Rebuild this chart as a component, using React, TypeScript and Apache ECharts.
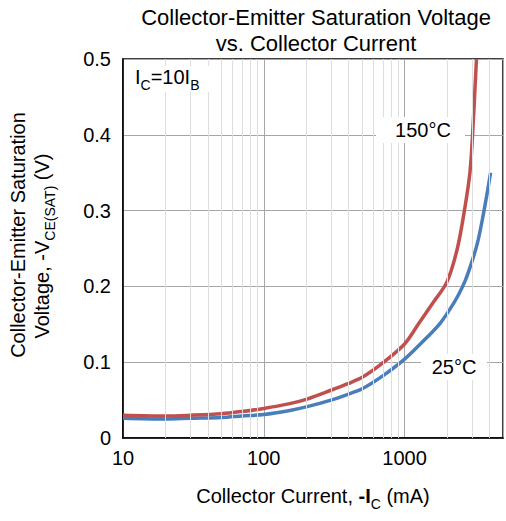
import React, { useEffect, useRef } from "react";
import * as echarts from "echarts";

// 150 °C curve
const hotCurrent = [10, 20, 30, 50, 70, 100, 150, 200, 300, 400, 500, 700, 1000, 1250, 1600, 2000, 2370, 2660, 2910, 3040, 3160, 3240];
const hotVoltage = [0.030, 0.029, 0.030, 0.032, 0.035, 0.039, 0.045, 0.051, 0.063, 0.072, 0.080, 0.099, 0.124, 0.150, 0.179, 0.206, 0.25, 0.30, 0.35, 0.40, 0.46, 0.50];

// 25 °C curve
const roomCurrent = [10, 20, 30, 50, 70, 100, 150, 200, 300, 400, 500, 700, 1000, 1500, 1800, 2100, 2400, 2700, 3000, 3300, 3600, 3850, 4080];
const roomVoltage = [0.026, 0.025, 0.026, 0.027, 0.029, 0.031, 0.036, 0.041, 0.050, 0.058, 0.065, 0.082, 0.104, 0.136, 0.152, 0.170, 0.188, 0.208, 0.232, 0.258, 0.292, 0.322, 0.350];

const xMajorLabels = [10, 100, 1000];
const minorGridCurrents = [20, 30, 40, 50, 60, 70, 80, 90, 200, 300, 400, 500, 600, 700, 800, 900, 2000, 3000, 4000];

const FONT = "'Liberation Sans', Arial, sans-serif";

export default function App() {
  const ref = useRef<HTMLDivElement>(null);
  useEffect(() => {
    document.body.style.margin = "0";
    const chart = echarts.init(ref.current!, null, { renderer: "svg" });
    const rich = {
      a: { fontSize: 20, fontFamily: FONT, color: "#000", lineHeight: 25, verticalAlign: "top" },
      b: { fontSize: 20, fontFamily: FONT, color: "#000", lineHeight: 25, verticalAlign: "top", fontWeight: "bold" },
      s: { fontSize: 14, fontFamily: FONT, color: "#000", lineHeight: 14, verticalAlign: "bottom" },
    };
    chart.setOption({
      animation: false,
      backgroundColor: "#fff",
      grid: { left: 123, right: 2, top: 59, bottom: 83, show: true, borderColor: "#000", borderWidth: 1.5 },
      xAxis: {
        type: "log",
        logBase: 10,
        min: 10,
        max: 5000,
        axisLine: { show: true, lineStyle: { color: "#000", width: 1.5 } },
        axisTick: { show: false },
        axisLabel: {
          color: "#000",
          fontSize: 20,
          fontFamily: FONT,
          margin: 10,
          formatter: (v: number) => (xMajorLabels.includes(Math.round(v)) ? String(Math.round(v)) : ""),
        },
        splitLine: { show: true, lineStyle: { color: "#a6a6a6", width: 1 } },
      },
      yAxis: {
        type: "value",
        min: 0,
        max: 0.5,
        interval: 0.1,
        axisLine: { show: true, lineStyle: { color: "#000", width: 1.5 } },
        axisTick: { show: false },
        axisLabel: { color: "#000", fontSize: 20, fontFamily: FONT, margin: 12 },
        splitLine: { show: true, lineStyle: { color: "#a6a6a6", width: 1 } },
      },
      series: [
        {
          type: "line",
          data: [[10, -1]],
          symbol: "none",
          lineStyle: { opacity: 0 },
          silent: true,
          z: 1,
          markLine: {
            silent: true,
            symbol: ["none", "none"],
            label: { show: false },
            lineStyle: { color: "#dedede", width: 1, type: "solid" },
            data: minorGridCurrents.map((v) => ({ xAxis: v })),
          },
        },
        {
          type: "line",
          name: "25°C",
          data: roomCurrent.map((c, i) => [c, roomVoltage[i]]),
          symbol: "none",
          smooth: 0.3,
          lineStyle: { color: "#4a7ebb", width: 3.5 },
          z: 3,
        },
        {
          type: "line",
          name: "150°C",
          data: hotCurrent.map((c, i) => [c, hotVoltage[i]]),
          symbol: "none",
          smooth: 0.3,
          lineStyle: { color: "#c0504d", width: 3.5 },
          z: 4,
        },
      ],
      graphic: [
        { type: "text", x: 316, y: 17, style: { text: "Collector-Emitter Saturation Voltage", font: `22px ${FONT}`, fill: "#000", align: "center", verticalAlign: "middle" } },
        { type: "text", x: 316, y: 43, style: { text: "vs. Collector Current", font: `22px ${FONT}`, fill: "#000", align: "center", verticalAlign: "middle" } },
        { type: "text", x: 18, y: 235, rotation: Math.PI / 2, style: { text: "Collector-Emitter Saturation", font: `20px ${FONT}`, fill: "#000", align: "center", verticalAlign: "middle" } },
        { type: "text", x: 44, y: 246, rotation: Math.PI / 2, style: { text: "{a|Voltage, -V}{s|CE(SAT)}{a| (V)}", rich, align: "center", verticalAlign: "middle" } },
        { type: "text", x: 313, y: 498, style: { text: "{a|Collector Current, }{b|-I}{s|C}{a| (mA)}", rich, align: "center", verticalAlign: "middle" } },
        { type: "rect", shape: { x: 132, y: 66, width: 84, height: 26 }, style: { fill: "#fff" }, z: 10 },
        { type: "text", x: 135, y: 79, z: 11, style: { text: "{a|I}{s|C}{a|=10I}{s|B}", rich, align: "left", verticalAlign: "middle" } },
        { type: "rect", shape: { x: 376, y: 117, width: 89, height: 26 }, style: { fill: "#fff" }, z: 10 },
        { type: "text", x: 423, y: 130, z: 11, style: { text: "150°C", font: `20px ${FONT}`, fill: "#000", align: "center", verticalAlign: "middle" } },
        { type: "rect", shape: { x: 421, y: 354, width: 66, height: 26 }, style: { fill: "#fff" }, z: 10 },
        { type: "text", x: 454, y: 367, z: 11, style: { text: "25°C", font: `20px ${FONT}`, fill: "#000", align: "center", verticalAlign: "middle" } },
      ],
    });
    return () => chart.dispose();
  }, []);
  return <div ref={ref} style={{ width: 506, height: 521 }} />;
}
